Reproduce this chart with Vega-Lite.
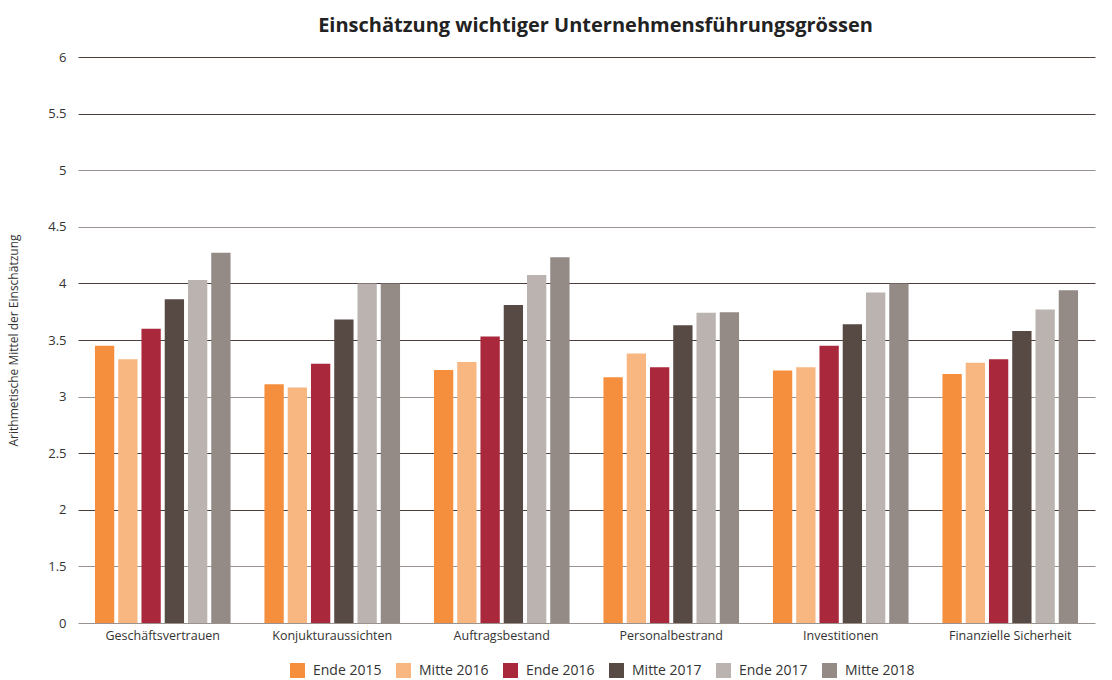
{
  "$schema": "https://vega.github.io/schema/vega-lite/v6.json",
  "autosize": "none",
  "width": 1017,
  "height": 566,
  "padding": {"left": 78, "top": 57, "right": 17, "bottom": 57},
  "background": "white",
  "config": {
    "font": "Open Sans",
    "view": {"stroke": null},
    "axis": {"labelFont": "Open Sans", "titleFont": "Open Sans", "labelColor": "#333333", "titleColor": "#333333"},
    "legend": {"labelFont": "Open Sans"}
  },
  "title": {
    "text": "Einschätzung wichtiger Unternehmensführungsgrössen",
    "font": "Open Sans",
    "fontSize": 20,
    "fontWeight": "bold",
    "color": "#222222",
    "anchor": "middle",
    "offset": 15,
    "dx": 9
  },
  "data": {
    "values": [
      {"k": "Geschäftsvertrauen", "p": "Ende 2015", "v": 3.45},
      {"k": "Geschäftsvertrauen", "p": "Mitte 2016", "v": 3.33},
      {"k": "Geschäftsvertrauen", "p": "Ende 2016", "v": 3.60},
      {"k": "Geschäftsvertrauen", "p": "Mitte 2017", "v": 3.86},
      {"k": "Geschäftsvertrauen", "p": "Ende 2017", "v": 4.03},
      {"k": "Geschäftsvertrauen", "p": "Mitte 2018", "v": 4.27},
      {"k": "Konjukturaussichten", "p": "Ende 2015", "v": 3.11},
      {"k": "Konjukturaussichten", "p": "Mitte 2016", "v": 3.08},
      {"k": "Konjukturaussichten", "p": "Ende 2016", "v": 3.29},
      {"k": "Konjukturaussichten", "p": "Mitte 2017", "v": 3.68},
      {"k": "Konjukturaussichten", "p": "Ende 2017", "v": 4.0},
      {"k": "Konjukturaussichten", "p": "Mitte 2018", "v": 4.0},
      {"k": "Auftragsbestand", "p": "Ende 2015", "v": 3.235},
      {"k": "Auftragsbestand", "p": "Mitte 2016", "v": 3.305},
      {"k": "Auftragsbestand", "p": "Ende 2016", "v": 3.53},
      {"k": "Auftragsbestand", "p": "Mitte 2017", "v": 3.81},
      {"k": "Auftragsbestand", "p": "Ende 2017", "v": 4.075},
      {"k": "Auftragsbestand", "p": "Mitte 2018", "v": 4.23},
      {"k": "Personalbestrand", "p": "Ende 2015", "v": 3.17},
      {"k": "Personalbestrand", "p": "Mitte 2016", "v": 3.38},
      {"k": "Personalbestrand", "p": "Ende 2016", "v": 3.26},
      {"k": "Personalbestrand", "p": "Mitte 2017", "v": 3.63},
      {"k": "Personalbestrand", "p": "Ende 2017", "v": 3.74},
      {"k": "Personalbestrand", "p": "Mitte 2018", "v": 3.745},
      {"k": "Investitionen", "p": "Ende 2015", "v": 3.23},
      {"k": "Investitionen", "p": "Mitte 2016", "v": 3.26},
      {"k": "Investitionen", "p": "Ende 2016", "v": 3.45},
      {"k": "Investitionen", "p": "Mitte 2017", "v": 3.64},
      {"k": "Investitionen", "p": "Ende 2017", "v": 3.92},
      {"k": "Investitionen", "p": "Mitte 2018", "v": 4.0},
      {"k": "Finanzielle Sicherheit", "p": "Ende 2015", "v": 3.20},
      {"k": "Finanzielle Sicherheit", "p": "Mitte 2016", "v": 3.30},
      {"k": "Finanzielle Sicherheit", "p": "Ende 2016", "v": 3.33},
      {"k": "Finanzielle Sicherheit", "p": "Mitte 2017", "v": 3.58},
      {"k": "Finanzielle Sicherheit", "p": "Ende 2017", "v": 3.77},
      {"k": "Finanzielle Sicherheit", "p": "Mitte 2018", "v": 3.94}
    ]
  },
  "mark": {"type": "bar"},
  "encoding": {
    "x": {
      "field": "k",
      "type": "nominal",
      "sort": null,
      "scale": {"paddingInner": 0.2, "paddingOuter": 0.1},
      "axis": {
        "title": null,
        "labelAngle": 0,
        "labelFontSize": 12.5,
        "labelPadding": 6,
        "ticks": false,
        "domain": false
      }
    },
    "xOffset": {
      "field": "p",
      "type": "nominal",
      "sort": ["Ende 2015", "Mitte 2016", "Ende 2016", "Mitte 2017", "Ende 2017", "Mitte 2018"],
      "scale": {"paddingInner": 0.17, "paddingOuter": 0}
    },
    "y": {
      "field": "v",
      "type": "quantitative",
      "scale": {"domain": [1, 6], "zero": false, "nice": false},
      "axis": {
        "title": "Arithmetische Mittel der Einschätzung",
        "titleFontSize": 12,
        "titleFontWeight": "normal",
        "titlePadding": 27,
        "values": [1, 1.5, 2, 2.5, 3, 3.5, 4, 4.5, 5, 5.5, 6],
        "labelExpr": "datum.value == 1 ? '0' : format(datum.value, '~g')",
        "labelFontSize": 13,
        "labelPadding": 12,
        "ticks": false,
        "domain": false,
        "grid": true,
        "gridWidth": 1.2,
        "gridColor": {
          "condition": {"test": "datum.value == 6 || datum.value == 5.5 || datum.value == 4 || datum.value == 3.5 || datum.value == 2.5 || datum.value == 2", "value": "#4a3f3b"},
          "value": "#9a928e"
        }
      }
    },
    "y2": {"datum": 1},
    "color": {
      "field": "p",
      "type": "nominal",
      "sort": ["Ende 2015", "Mitte 2016", "Ende 2016", "Mitte 2017", "Ende 2017", "Mitte 2018"],
      "scale": {
        "domain": ["Ende 2015", "Mitte 2016", "Ende 2016", "Mitte 2017", "Ende 2017", "Mitte 2018"],
        "range": ["#f68f3d", "#f8b781", "#a9283b", "#574944", "#bab3b0", "#948a86"]
      },
      "legend": {
        "title": null,
        "orient": "none",
        "legendX": 212,
        "legendY": 606,
        "direction": "horizontal",
        "symbolType": "square",
        "symbolSize": 225,
        "symbolStrokeWidth": 0,
        "labelFontSize": 14,
        "labelOffset": 8,
        "labelColor": "#333333",
        "columnPadding": 14
      }
    }
  }
}
